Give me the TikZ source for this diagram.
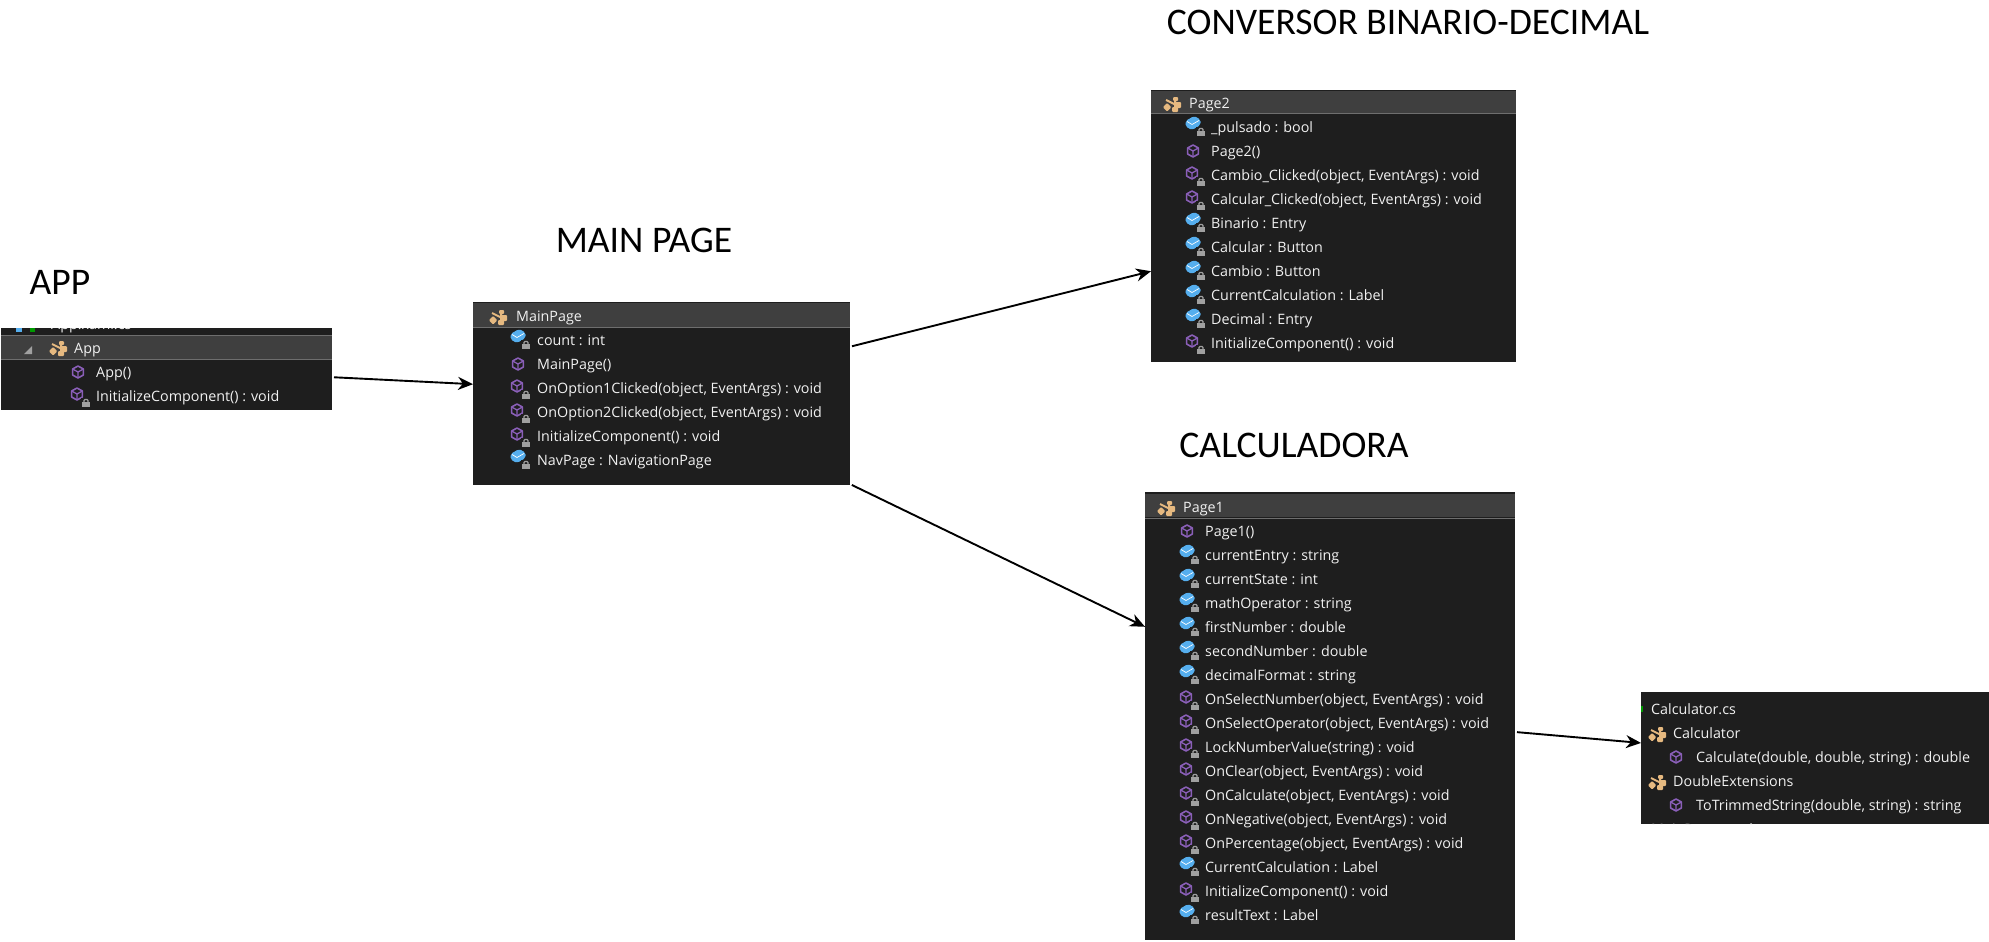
\documentclass[tikz,border=0pt]{standalone}
\usepackage{fontspec}
\setmainfont{Open Sans}
\newfontfamily\titulofont{Carlito}
\usetikzlibrary{arrows.meta}
\definecolor{panelfondo}{HTML}{1E1E1E}
\definecolor{cabfondo}{HTML}{3F3F3F}
\definecolor{cablinea}{HTML}{6E6E6E}
\definecolor{textofila}{HTML}{F1F1F1}
\definecolor{morado}{HTML}{8A5FB8}
\definecolor{azulcampo}{HTML}{55AEEE}
\definecolor{naranja}{HTML}{E6B980}
\definecolor{gris}{HTML}{A0A0A0}
\tikzset{
    panel/.style={rectangle,fill=panelfondo,inner sep=0pt,outer sep=0pt},
    fila/.style={anchor=west,inner sep=0pt,text=textofila,font=\fontsize{14.3}{16}\selectfont,text height=12.2pt,text depth=0.6pt},
    titulo/.style={font=\titulofont\fontsize{37.6}{42}\selectfont,text=black,inner sep=0pt},
    flecha/.style={draw=black,line width=1.9pt,shorten <=2pt,-{Stealth[length=15pt,width=13pt]}},
    candado/.pic={
        \fill[panelfondo] (-5,-5.5) rectangle (5,5);
        \fill[gris] (-3.6,-1) rectangle (3.6,4);
        \draw[gris,line width=1.2pt] (-2,-1) -- (-2,-2.5) -- (-1,-3.5) -- (1,-3.5) -- (2,-2.5) -- (2,-1);
    },
    metodo/.pic={
        \draw[morado,line width=1.6pt,line join=round] (0,-6) -- (5.4,-3) -- (5.4,3) -- (0,6) -- (-5.4,3) -- (-5.4,-3) -- cycle;
        \draw[morado,line width=1.3pt] (-5.4,-3) -- (0,0) -- (5.4,-3) (0,0) -- (0,6);
    },
    metodolock/.pic={
        \pic at (-1,-2) {metodo};
        \pic at (8,7) {candado};
    },
    campo/.pic={
        \fill[azulcampo,rounded corners=2pt] (-7.5,-2) -- (1,-7) -- (7.5,-3.5) -- (7.5,2) -- (-1,7) -- (-7.5,3.5) -- cycle;
        \draw[white,line width=0.7pt] (-6,-1.5) -- (-1,1.5) -- (6,-2.5);
    },
    campolock/.pic={
        \pic at (0,-4) {campo};
        \pic at (8,5) {candado};
    },
    clase/.pic={
        \draw[naranja,line width=2pt] (-6,-3) -- (6,3) (3,-3) -- (3,6);
        \fill[naranja,rotate=45,rounded corners=1pt] (-9.5,-3.5) rectangle ++(6,6);
        \fill[naranja,rounded corners=1pt] (2,-1) rectangle ++(7,6);
        \fill[naranja,rounded corners=1pt] (0,4) rectangle ++(6,5);
        \fill[naranja,rounded corners=1pt] (1,-6) rectangle ++(5,4);
    }
}
\begin{document}
\begin{tikzpicture}[x=1pt,y=-1pt]
\useasboundingbox (0,0) rectangle (1989,942);

% titulos
\node[titulo] (tapp) at (60,282) {APP};
\node[titulo] (tmain) at (644,240) {MAIN PAGE};
\node[titulo] (tconv) at (1408,22) {CONVERSOR BINARIO-DECIMAL};
\node[titulo] (tcalc) at (1294,445) {CALCULADORA};

% paneles
\node[panel,minimum width=331pt,minimum height=82pt] (app) at (166.5,369) {};
\node[panel,minimum width=377pt,minimum height=183pt] (mainpage) at (661.5,393.5) {};
\node[panel,minimum width=365pt,minimum height=272pt] (page2) at (1333.5,226) {};
\node[panel,minimum width=370pt,minimum height=448pt] (page1) at (1330,716) {};
\node[panel,minimum width=348pt,minimum height=132pt] (calculator) at (1815,758) {};

% cabeceras
\fill[cabfondo] (1,335) rectangle (332,359);
\fill[cablinea] (1,358.5) rectangle (332,359.5);
\fill[cablinea] (1,335) rectangle (332,336);
\fill[cabfondo] (473,303) rectangle (850,327);
\fill[cablinea] (473,326.5) rectangle (850,327.5);
\fill[cabfondo] (1151,91) rectangle (1516,113);
\fill[cablinea] (1151,113) rectangle (1516,114);
\fill[cabfondo] (1145,494) rectangle (1515,517);
\fill[cablinea] (1145,517.5) rectangle (1515,518.5);

% APP
\begin{scope}
    \clip (1,328) rectangle (332,334);
    \node[fila] (appx) at (51,324) {App.xaml.cs};
    \fill[azulcampo] (16,328) rectangle (22,332);
    \fill[green!60!black] (30,328) rectangle (35,332);
\end{scope}
\fill[gris] (32,346) -- (32,354) -- (24,354) -- cycle;
\pic at (58,347) {clase};
\node[fila] (app0) at (74,348) {App};
\node[fila] (app1) at (96,372) {App()}; \pic at (78,372) {metodo};
\node[fila] (app2) at (96,396) {InitializeComponent() : void}; \pic at (78,396) {metodolock};

% MainPage
\pic at (498,316) {clase};
\node[fila] (mp0) at (516,316) {MainPage};
\node[fila] (mp1) at (537,340) {count : int}; \pic at (518,340) {campolock};
\node[fila] (mp2) at (537,364) {MainPage()}; \pic at (518,364) {metodo};
\node[fila] (mp3) at (537,388) {OnOption1Clicked(object, EventArgs) : void}; \pic at (518,388) {metodolock};
\node[fila] (mp4) at (537,412) {OnOption2Clicked(object, EventArgs) : void}; \pic at (518,412) {metodolock};
\node[fila] (mp5) at (537,436) {InitializeComponent() : void}; \pic at (518,436) {metodolock};
\node[fila] (mp6) at (537,460) {NavPage : NavigationPage}; \pic at (518,460) {campolock};

% Page2
\pic at (1172,103) {clase};
\node[fila] (pb0) at (1189,103) {Page2};
\node[fila] (pb1) at (1211,127) {\_pulsado : bool}; \pic at (1193,127) {campolock};
\node[fila] (pb2) at (1211,151) {Page2()}; \pic at (1193,151) {metodo};
\node[fila] (pb3) at (1211,175) {Cambio\_Clicked(object, EventArgs) : void}; \pic at (1193,175) {metodolock};
\node[fila] (pb4) at (1211,199) {Calcular\_Clicked(object, EventArgs) : void}; \pic at (1193,199) {metodolock};
\node[fila] (pb5) at (1211,223) {Binario : Entry}; \pic at (1193,223) {campolock};
\node[fila] (pb6) at (1211,247) {Calcular : Button}; \pic at (1193,247) {campolock};
\node[fila] (pb7) at (1211,271) {Cambio : Button}; \pic at (1193,271) {campolock};
\node[fila] (pb8) at (1211,295) {CurrentCalculation : Label}; \pic at (1193,295) {campolock};
\node[fila] (pb9) at (1211,319) {Decimal : Entry}; \pic at (1193,319) {campolock};
\node[fila] (pb10) at (1211,343) {InitializeComponent() : void}; \pic at (1193,343) {metodolock};

% Page1
\pic at (1166,507) {clase};
\node[fila] (pa0) at (1183,507) {Page1};
\node[fila] (pa1) at (1205,531) {Page1()}; \pic at (1187,531) {metodo};
\node[fila] (pa2) at (1205,555) {currentEntry : string}; \pic at (1187,555) {campolock};
\node[fila] (pa3) at (1205,579) {currentState : int}; \pic at (1187,579) {campolock};
\node[fila] (pa4) at (1205,603) {mathOperator : string}; \pic at (1187,603) {campolock};
\node[fila] (pa5) at (1205,627) {firstNumber : double}; \pic at (1187,627) {campolock};
\node[fila] (pa6) at (1205,651) {secondNumber : double}; \pic at (1187,651) {campolock};
\node[fila] (pa7) at (1205,675) {decimalFormat : string}; \pic at (1187,675) {campolock};
\node[fila] (pa8) at (1205,699) {OnSelectNumber(object, EventArgs) : void}; \pic at (1187,699) {metodolock};
\node[fila] (pa9) at (1205,723) {OnSelectOperator(object, EventArgs) : void}; \pic at (1187,723) {metodolock};
\node[fila] (pa10) at (1205,747) {LockNumberValue(string) : void}; \pic at (1187,747) {metodolock};
\node[fila] (pa11) at (1205,771) {OnClear(object, EventArgs) : void}; \pic at (1187,771) {metodolock};
\node[fila] (pa12) at (1205,795) {OnCalculate(object, EventArgs) : void}; \pic at (1187,795) {metodolock};
\node[fila] (pa13) at (1205,819) {OnNegative(object, EventArgs) : void}; \pic at (1187,819) {metodolock};
\node[fila] (pa14) at (1205,843) {OnPercentage(object, EventArgs) : void}; \pic at (1187,843) {metodolock};
\node[fila] (pa15) at (1205,867) {CurrentCalculation : Label}; \pic at (1187,867) {campolock};
\node[fila] (pa16) at (1205,891) {InitializeComponent() : void}; \pic at (1187,891) {metodolock};
\node[fila] (pa17) at (1205,915) {resultText : Label}; \pic at (1187,915) {campolock};

% Calculator.cs
\fill[green!60!black] (1641,706) rectangle (1643,712);
\node[fila] (ca0) at (1651,709) {Calculator.cs};
\pic at (1657,733) {clase};
\node[fila] (ca1) at (1673,733) {Calculator};
\node[fila] (ca2) at (1696,757) {Calculate(double, double, string) : double}; \pic at (1676,757) {metodo};
\pic at (1657,781) {clase};
\node[fila] (ca3) at (1673,781) {DoubleExtensions};
\node[fila] (ca4) at (1696,805) {ToTrimmedString(double, string) : string}; \pic at (1676,805) {metodo};
\begin{scope}
    \clip (1641,818) rectangle (1989,824);
    \node[fila] (ca5) at (1651,829) {MainPage.xaml};
\end{scope}

% conexiones
\draw[flecha] (app) -- (mainpage);
\draw[flecha] (mainpage) -- (page2);
\draw[flecha] (mainpage) -- (page1);
\draw[flecha] (page1) -- (calculator);
\end{tikzpicture}
\end{document}
